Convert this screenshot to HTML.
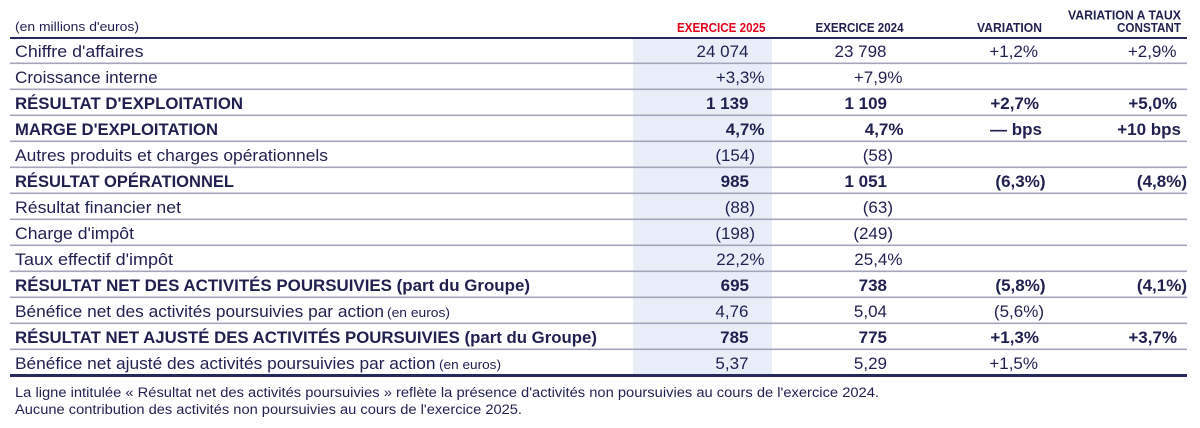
<!DOCTYPE html>
<html><head><meta charset="utf-8"><style>
html,body{margin:0;padding:0;background:#fff;}
svg{display:block;}
text{font-family:"Liberation Sans",sans-serif;fill:#1f2050;}
.h{font-weight:bold;font-size:12.5px;}
.r{font-size:17px;}
.b{font-size:17px;font-weight:bold;}
.s{font-size:13px;}
.f{font-size:13.5px;}
</style></head><body>
<svg width="1200" height="428" viewBox="0 0 1200 428" xmlns="http://www.w3.org/2000/svg">
<rect width="1200" height="428" fill="#fff"/>
<rect x="633" y="39" width="139" height="335" fill="#e8eef8"/>
<!-- header line -->
<rect x="10" y="37" width="1177" height="2" fill="#26285e"/>
<!-- row lines -->
<g fill="#a3a5bb">
<rect x="10" y="62.5" width="1177" height="1.6"/>
<rect x="10" y="88.5" width="1177" height="1.6"/>
<rect x="10" y="114.5" width="1177" height="1.6"/>
<rect x="10" y="140.5" width="1177" height="1.6"/>
<rect x="10" y="166.5" width="1177" height="1.6"/>
<rect x="10" y="192.5" width="1177" height="1.6"/>
<rect x="10" y="218.5" width="1177" height="1.6"/>
<rect x="10" y="244.5" width="1177" height="1.6"/>
<rect x="10" y="270.5" width="1177" height="1.6"/>
<rect x="10" y="296.5" width="1177" height="1.6"/>
<rect x="10" y="322.5" width="1177" height="1.6"/>
<rect x="10" y="348.5" width="1177" height="1.6"/>
</g>
<rect x="10" y="374" width="1177" height="3" fill="#26285e"/>

<!-- headers -->
<text class="s" x="15" y="31" textLength="124" lengthAdjust="spacingAndGlyphs">(en millions d'euros)</text>
<text class="h" x="765.5" y="32" text-anchor="end" textLength="88.5" lengthAdjust="spacingAndGlyphs" style="fill:#e2001a">EXERCICE 2025</text>
<text class="h" x="903.5" y="32" text-anchor="end" textLength="88" lengthAdjust="spacingAndGlyphs">EXERCICE 2024</text>
<text class="h" x="1042" y="32" text-anchor="end" textLength="65" lengthAdjust="spacingAndGlyphs">VARIATION</text>
<text class="h" x="1181" y="19.5" text-anchor="end" textLength="113" lengthAdjust="spacingAndGlyphs">VARIATION A TAUX</text>
<text class="h" x="1181" y="32" text-anchor="end" textLength="64" lengthAdjust="spacingAndGlyphs">CONSTANT</text>

<!-- labels -->
<text class="r" x="15" y="57" textLength="128.5" lengthAdjust="spacingAndGlyphs">Chiffre d'affaires</text>
<text class="r" x="15" y="83" textLength="142.7" lengthAdjust="spacingAndGlyphs">Croissance interne</text>
<text class="b" x="15" y="109" textLength="228" lengthAdjust="spacingAndGlyphs">RÉSULTAT D'EXPLOITATION</text>
<text class="b" x="15" y="135" textLength="203" lengthAdjust="spacingAndGlyphs">MARGE D'EXPLOITATION</text>
<text class="r" x="15" y="161" textLength="313" lengthAdjust="spacingAndGlyphs">Autres produits et charges opérationnels</text>
<text class="b" x="15" y="187" textLength="219" lengthAdjust="spacingAndGlyphs">RÉSULTAT OPÉRATIONNEL</text>
<text class="r" x="15" y="213" textLength="166" lengthAdjust="spacingAndGlyphs">Résultat financier net</text>
<text class="r" x="15" y="239" textLength="119" lengthAdjust="spacingAndGlyphs">Charge d'impôt</text>
<text class="r" x="15" y="265" textLength="158" lengthAdjust="spacingAndGlyphs">Taux effectif d'impôt</text>
<text class="b" x="15" y="291" textLength="515" lengthAdjust="spacingAndGlyphs">RÉSULTAT NET DES ACTIVITÉS POURSUIVIES (part du Groupe)</text>
<text class="r" x="15" y="317" textLength="369" lengthAdjust="spacingAndGlyphs">Bénéfice net des activités poursuivies par action</text>
<text class="s" x="387" y="317" textLength="63" lengthAdjust="spacingAndGlyphs">(en euros)</text>
<text class="b" x="15" y="343" textLength="582" lengthAdjust="spacingAndGlyphs">RÉSULTAT NET AJUSTÉ DES ACTIVITÉS POURSUIVIES (part du Groupe)</text>
<text class="r" x="15" y="369" textLength="420.5" lengthAdjust="spacingAndGlyphs">Bénéfice net ajusté des activités poursuivies par action</text>
<text class="s" x="439" y="369" textLength="62" lengthAdjust="spacingAndGlyphs">(en euros)</text>

<!-- values -->
<g text-anchor="end">
<text class="r" x="748.5" y="57">24 074</text>
<text class="r" x="886.5" y="57">23 798</text>
<text class="r" x="1038" y="57">+1,2%</text>
<text class="r" x="1176.5" y="57">+2,9%</text>

<text class="r" x="764.5" y="83">+3,3%</text>
<text class="r" x="902.5" y="83">+7,9%</text>

<text class="b" x="748.5" y="109">1 139</text>
<text class="b" x="887" y="109">1 109</text>
<text class="b" x="1039" y="109">+2,7%</text>
<text class="b" x="1177" y="109">+5,0%</text>

<text class="b" x="764.5" y="135">4,7%</text>
<text class="b" x="903.5" y="135">4,7%</text>
<text class="b" x="1042" y="135">— bps</text>
<text class="b" x="1181" y="135">+10 bps</text>

<text class="r" x="755" y="161">(154)</text>
<text class="r" x="893" y="161">(58)</text>

<text class="b" x="749" y="187">985</text>
<text class="b" x="887" y="187">1 051</text>
<text class="b" x="1045.5" y="187">(6,3%)</text>
<text class="b" x="1187" y="187">(4,8%)</text>

<text class="r" x="755" y="213">(88)</text>
<text class="r" x="893" y="213">(63)</text>

<text class="r" x="755" y="239">(198)</text>
<text class="r" x="893" y="239">(249)</text>

<text class="r" x="764.5" y="265">22,2%</text>
<text class="r" x="902.5" y="265">25,4%</text>

<text class="b" x="749" y="291">695</text>
<text class="b" x="887" y="291">738</text>
<text class="b" x="1045.5" y="291">(5,8%)</text>
<text class="b" x="1187" y="291">(4,1%)</text>

<text class="r" x="748.5" y="317">4,76</text>
<text class="r" x="887" y="317">5,04</text>
<text class="r" x="1044" y="317">(5,6%)</text>

<text class="b" x="748.5" y="343">785</text>
<text class="b" x="887" y="343">775</text>
<text class="b" x="1039" y="343">+1,3%</text>
<text class="b" x="1177" y="343">+3,7%</text>

<text class="r" x="748.5" y="369">5,37</text>
<text class="r" x="887" y="369">5,29</text>
<text class="r" x="1038" y="369">+1,5%</text>
</g>

<!-- footnotes -->
<text class="f" x="15" y="397" textLength="864" lengthAdjust="spacingAndGlyphs">La ligne intitulée « Résultat net des activités poursuivies » reflète la présence d'activités non poursuivies au cours de l'exercice 2024.</text>
<text class="f" x="15" y="414" textLength="507" lengthAdjust="spacingAndGlyphs">Aucune contribution des activités non poursuivies au cours de l'exercice 2025.</text>
</svg>
</body></html>
